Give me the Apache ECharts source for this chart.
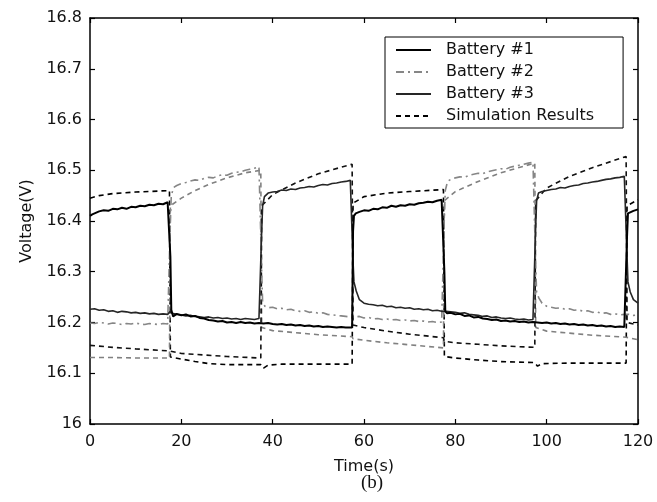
<!DOCTYPE html>
<html>
<head>
<meta charset="utf-8">
<script src="https://cdn.jsdelivr.net/npm/echarts@6/dist/echarts.min.js"></script>
<style>
  html, body { margin: 0; padding: 0; background: #fff; }
  #chart { width: 657px; height: 502px; }
</style>
</head>
<body>
<div id="chart"></div>
<script>
// Axis ranges and tick steps
const timeRange = [0, 120];
const timeStep = 20;
const voltRange = [16, 16.8];
const voltStep = 0.1;

// Series names (legend order)
const seriesNames = ['Battery #1', 'Battery #2', 'Battery #3', 'Simulation Results'];

// Measured terminal voltage, Battery #1: [time s, voltage V]
const battery1 = [
  [0,16.410],[0.5,16.413],[1,16.415],[2,16.419],[3,16.421],[4,16.420],[5,16.424],[6,16.423],[7,16.426],[8,16.424],
  [9,16.428],[10,16.427],[11,16.430],[12,16.429],[13,16.432],[14,16.431],[15,16.434],[16,16.433],[17,16.437],[17.4,16.436],
  [17.6,16.330],[17.8,16.225],[18.2,16.212],[19,16.217],[20,16.214],[21,16.216],[22,16.212],[23,16.213],[24,16.209],[25,16.208],
  [26,16.205],[27,16.204],[28,16.202],[29,16.203],[30,16.200],[31,16.201],[32,16.199],[33,16.201],[34,16.199],[35,16.200],
  [36,16.198],[37,16.199],[38,16.198],[39,16.199],[40,16.197],[41,16.196],[42,16.197],[43,16.195],[44,16.196],[45,16.194],
  [46,16.195],[47,16.193],[48,16.194],[49,16.192],[50,16.193],[51,16.191],[52,16.192],[53,16.191],[54,16.190],[55,16.191],
  [56,16.190],[57.4,16.190],[57.6,16.380],[57.8,16.410],[58.2,16.415],[59,16.418],[60,16.421],[61,16.420],[62,16.424],[63,16.423],
  [64,16.427],[65,16.426],[66,16.430],[67,16.428],[68,16.431],[69,16.430],[70,16.433],[71,16.432],[72,16.435],[73,16.436],
  [74,16.438],[75,16.437],[76,16.440],[77,16.442],[77.4,16.443],[77.6,16.300],[77.8,16.222],[78.2,16.218],[79,16.219],[80,16.216],
  [81,16.217],[82,16.213],[83,16.214],[84,16.210],[85,16.211],[86,16.208],[87,16.207],[88,16.205],[89,16.206],[90,16.203],
  [91,16.204],[92,16.202],[93,16.203],[94,16.201],[95,16.202],[96,16.200],[97,16.201],[98,16.200],[99,16.199],[100,16.200],
  [101,16.198],[102,16.199],[103,16.197],[104,16.198],[105,16.196],[106,16.197],[107,16.195],[108,16.196],[109,16.194],[110,16.195],
  [111,16.193],[112,16.194],[113,16.192],[114,16.193],[115,16.191],[116,16.192],[117,16.191],[117.4,16.191],[117.6,16.370],[117.8,16.415],
  [118.2,16.418],[119,16.420],[120,16.423]
];

// Measured terminal voltage, Battery #2
const battery2 = [
  [0,16.199],[1,16.198],[2,16.200],[3,16.199],[4,16.197],[5,16.199],[6,16.198],[7,16.196],[8,16.198],[9,16.197],
  [10,16.199],[11,16.197],[12,16.196],[13,16.198],[14,16.197],[15,16.196],[16,16.198],[17,16.197],[17.4,16.197],[17.6,16.400],
  [17.8,16.450],[18.3,16.466],[19,16.470],[20,16.474],[21,16.476],[22,16.479],[23,16.481],[24,16.480],[25,16.484],[26,16.486],
  [27,16.485],[28,16.489],[29,16.491],[30,16.490],[31,16.494],[32,16.496],[33,16.497],[34,16.500],[35,16.502],[36,16.504],
  [37,16.507],[37.4,16.508],[37.6,16.300],[37.8,16.240],[38.3,16.232],[39,16.229],[40,16.230],[41,16.227],[42,16.228],[43,16.225],
  [44,16.226],[45,16.223],[46,16.222],[47,16.223],[48,16.220],[49,16.221],[50,16.218],[51,16.219],[52,16.216],[53,16.215],
  [54,16.214],[55,16.213],[56,16.212],[57,16.211],[57.4,16.210],[58,16.211],[59,16.212],[60,16.209],[61,16.210],[62,16.207],
  [63,16.208],[64,16.206],[65,16.207],[66,16.205],[67,16.206],[68,16.204],[69,16.205],[70,16.203],[71,16.204],[72,16.202],
  [73,16.203],[74,16.201],[75,16.202],[76,16.200],[77,16.201],[77.4,16.200],[77.6,16.410],[77.8,16.460],[78.3,16.478],[79,16.482],
  [80,16.485],[81,16.487],[82,16.486],[83,16.490],[84,16.492],[85,16.494],[86,16.493],[87,16.497],[88,16.499],[89,16.501],
  [90,16.503],[91,16.502],[92,16.506],[93,16.508],[94,16.510],[95,16.512],[96,16.514],[97,16.516],[97.4,16.517],[97.6,16.310],
  [97.8,16.260],[98.3,16.248],[99,16.238],[100,16.232],[101,16.230],[102,16.228],[103,16.229],[104,16.226],[105,16.227],[106,16.224],
  [107,16.225],[108,16.222],[109,16.223],[110,16.220],[111,16.221],[112,16.218],[113,16.219],[114,16.216],[115,16.217],[116,16.215],
  [117,16.216],[117.4,16.215],[118,16.216],[119,16.214],[120,16.215]
];

// Measured terminal voltage, Battery #3
const battery3 = [
  [0,16.226],[1,16.227],[2,16.224],[3,16.225],[4,16.222],[5,16.223],[6,16.220],[7,16.222],[8,16.221],[9,16.219],
  [10,16.220],[11,16.218],[12,16.219],[13,16.217],[14,16.218],[15,16.216],[16,16.217],[17,16.216],[17.4,16.217],[17.6,16.222],
  [18,16.218],[19,16.216],[20,16.215],[21,16.213],[22,16.214],[23,16.212],[24,16.211],[25,16.210],[26,16.211],[27,16.209],
  [28,16.210],[29,16.208],[30,16.209],[31,16.207],[32,16.208],[33,16.206],[34,16.208],[35,16.207],[36,16.206],[37,16.208],
  [37.4,16.209],[37.6,16.380],[37.8,16.430],[38.2,16.448],[39,16.455],[40,16.457],[41,16.458],[42,16.461],[43,16.460],[44,16.463],
  [45,16.462],[46,16.465],[47,16.466],[48,16.468],[49,16.467],[50,16.470],[51,16.472],[52,16.471],[53,16.474],[54,16.475],
  [55,16.477],[56,16.478],[57,16.480],[57.4,16.481],[57.6,16.320],[57.8,16.280],[58.3,16.262],[59,16.245],[60,16.238],[61,16.236],
  [62,16.235],[63,16.233],[64,16.234],[65,16.231],[66,16.232],[67,16.229],[68,16.230],[69,16.228],[70,16.229],[71,16.226],
  [72,16.227],[73,16.225],[74,16.226],[75,16.223],[76,16.224],[77,16.222],[77.4,16.223],[78,16.222],[79,16.221],[80,16.220],
  [81,16.218],[82,16.219],[83,16.216],[84,16.215],[85,16.214],[86,16.212],[87,16.213],[88,16.210],[89,16.211],[90,16.209],
  [91,16.208],[92,16.209],[93,16.207],[94,16.206],[95,16.207],[96,16.205],[97,16.206],[97.4,16.207],[97.6,16.390],[97.8,16.440],
  [98.2,16.455],[99,16.458],[100,16.460],[101,16.462],[102,16.463],[103,16.466],[104,16.465],[105,16.468],[106,16.470],[107,16.471],
  [108,16.474],[109,16.475],[110,16.477],[111,16.478],[112,16.480],[113,16.482],[114,16.483],[115,16.485],[116,16.486],[117,16.488],
  [117.4,16.489],[117.6,16.330],[117.8,16.280],[118.3,16.260],[119,16.245],[120,16.238]
];

// Simulated voltages for the three batteries
const sim1 = [
  [0,16.445],[2,16.450],[5,16.454],[10,16.457],[15,16.459],[17.4,16.460],[17.6,16.132],[20,16.128],[23,16.123],[26,16.119],
  [30,16.117],[37.4,16.117],[38,16.110],[39,16.116],[42,16.118],[50,16.118],[57.4,16.118],[57.6,16.435],[60,16.448],[65,16.455],
  [70,16.458],[77.4,16.462],[77.6,16.133],[80,16.130],[85,16.126],[90,16.123],[97.4,16.121],[98,16.114],[99,16.119],[105,16.120],
  [117.4,16.120],[117.6,16.430],[120,16.442]
];
const sim2 = [
  [0,16.131],[5,16.131],[10,16.130],[17.4,16.130],[17.6,16.430],[20,16.445],[23,16.460],[26,16.472],[30,16.485],[34,16.495],
  [37.4,16.500],[37.6,16.190],[40,16.184],[45,16.180],[50,16.176],[57.4,16.172],[57.6,16.168],[60,16.165],[65,16.160],[70,16.156],
  [77.4,16.150],[77.6,16.440],[80,16.458],[85,16.478],[90,16.495],[95,16.508],[97.4,16.514],[97.6,16.190],[100,16.183],[105,16.179],
  [110,16.175],[117.4,16.171],[117.6,16.168],[120,16.166]
];
const sim3 = [
  [0,16.155],[5,16.151],[10,16.148],[17.4,16.144],[17.6,16.141],[20,16.139],[25,16.136],[30,16.133],[37.4,16.130],[37.6,16.430],
  [40,16.452],[45,16.475],[50,16.493],[55,16.506],[57.4,16.512],[57.6,16.195],[60,16.190],[65,16.183],[70,16.177],[77.4,16.170],
  [77.6,16.163],[80,16.160],[85,16.157],[90,16.154],[97.4,16.151],[97.6,16.440],[100,16.465],[105,16.488],[110,16.505],[115,16.520],
  [117.4,16.527],[117.6,16.200],[120,16.195]
];

const FONT = 'DejaVu Sans';
const axisLineStyle = { color: '#000', width: 1.5 };

function frameAxis(pos, range, step, showLabels, extra) {
  return Object.assign({
    type: 'value',
    position: pos,
    min: range[0],
    max: range[1],
    interval: step,
    axisLine: { show: true, onZero: false, lineStyle: axisLineStyle },
    axisTick: { show: true, inside: true, length: 5, lineStyle: { color: '#000', width: 1.2 } },
    axisLabel: { show: showLabels, color: '#111', fontSize: 16, fontFamily: FONT },
    splitLine: { show: false }
  }, extra || {});
}

function lineSeries(name, data, color, width, type, z) {
  return {
    name: name,
    type: 'line',
    data: data,
    xAxisIndex: 0,
    yAxisIndex: 0,
    symbol: 'none',
    smooth: false,
    animation: false,
    z: z,
    lineStyle: { color: color, width: width, type: type },
    itemStyle: { color: color }
  };
}

const chart = echarts.init(document.getElementById('chart'), null, { renderer: 'canvas' });
chart.setOption({
  backgroundColor: '#fff',
  animation: false,
  title: {
    text: '(b)',
    left: 356,
    top: 469,
    textStyle: { fontFamily: 'Liberation Serif', fontSize: 19, fontWeight: 'normal', color: '#111' }
  },
  grid: { left: 90, right: 19, top: 18, bottom: 78 },
  xAxis: [
    frameAxis('bottom', timeRange, timeStep, true, {
      name: 'Time(s)',
      nameLocation: 'middle',
      nameGap: 35,
      nameTextStyle: { fontSize: 16, fontFamily: FONT, color: '#111' },
      axisLabel: { show: true, color: '#111', fontSize: 16, fontFamily: FONT, margin: 10 }
    }),
    frameAxis('top', timeRange, timeStep, false)
  ],
  yAxis: [
    frameAxis('left', voltRange, voltStep, true, {
      name: 'Voltage(V)',
      nameLocation: 'middle',
      nameGap: 55,
      nameTextStyle: { fontSize: 16, fontFamily: FONT, color: '#111' }
    }),
    frameAxis('right', voltRange, voltStep, false)
  ],
  legend: {
    data: seriesNames,
    orient: 'vertical',
    left: 385,
    top: 37,
    padding: [5, 29, 4, 10],
    itemGap: 6,
    itemWidth: 35,
    itemHeight: 14,
    selectedMode: false,
    borderColor: '#000',
    borderWidth: 1,
    backgroundColor: '#fff',
    itemStyle: { color: 'rgba(0,0,0,0)', borderColor: 'rgba(0,0,0,0)', borderWidth: 0, opacity: 0 },
    textStyle: { fontSize: 16, fontFamily: FONT, color: '#111', padding: [0, 0, 0, 10] }
  },
  series: [
    lineSeries(seriesNames[3], sim1, '#000', 1.6, [5, 4], 2),
    lineSeries(seriesNames[3], sim2, '#808080', 1.6, [5, 4], 2),
    lineSeries(seriesNames[3], sim3, '#111', 1.6, [5, 4], 2),
    lineSeries(seriesNames[1], battery2, '#868686', 1.6, [8, 4, 2, 4], 3),
    lineSeries(seriesNames[2], battery3, '#262626', 1.6, 'solid', 4),
    lineSeries(seriesNames[0], battery1, '#000', 2.0, 'solid', 5)
  ]
});
</script>
</body>
</html>
